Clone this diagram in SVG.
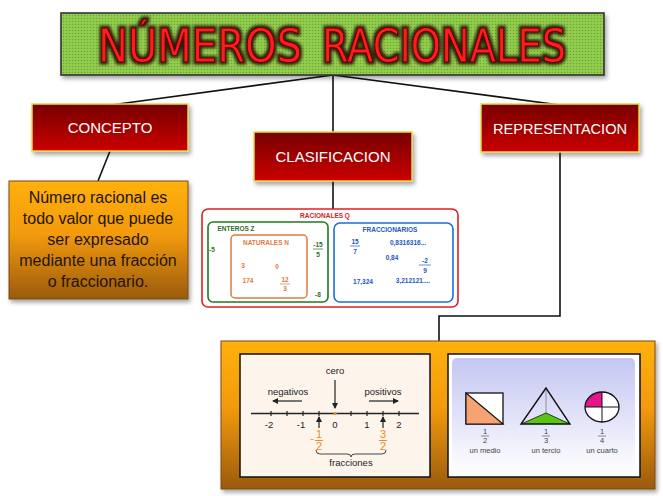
<svg xmlns="http://www.w3.org/2000/svg" width="663" height="496" viewBox="0 0 663 496">
<defs>
<pattern id="dots" width="3" height="3" patternUnits="userSpaceOnUse">
<rect width="3" height="3" fill="#8dc94a"/>
<rect x="0" y="0" width="1" height="1" fill="#6aa32f"/>
<rect x="1.5" y="1.5" width="1" height="1" fill="#a6da62"/>
</pattern>
<linearGradient id="redg" x1="0" y1="0" x2="0" y2="1">
<stop offset="0" stop-color="#760000"/>
<stop offset="1" stop-color="#cc0000"/>
</linearGradient>
<linearGradient id="orgg" x1="0" y1="0" x2="0" y2="1">
<stop offset="0" stop-color="#ffb10a"/>
<stop offset="0.45" stop-color="#f39a08"/>
<stop offset="1" stop-color="#9a5a08"/>
</linearGradient>
<linearGradient id="lavg" x1="0" y1="0" x2="0" y2="1">
<stop offset="0" stop-color="#c4c6f2"/>
<stop offset="1" stop-color="#ffffff"/>
</linearGradient>
<filter id="sh" x="-10%" y="-10%" width="130%" height="140%">
<feDropShadow dx="2" dy="3" stdDeviation="2" flood-color="#000" flood-opacity="0.35"/>
</filter>
<filter id="glow" x="-10%" y="-30%" width="120%" height="160%">
<feMorphology in="SourceAlpha" operator="dilate" radius="1.5" result="d"/>
<feGaussianBlur in="d" stdDeviation="1.5" result="b"/>
<feFlood flood-color="#1a0000" flood-opacity="0.85"/>
<feComposite in2="b" operator="in" result="g"/>
<feMerge><feMergeNode in="g"/><feMergeNode in="SourceGraphic"/></feMerge>
</filter>
<marker id="ah" viewBox="0 0 6 6" refX="5" refY="3" markerWidth="5" markerHeight="5" orient="auto">
<path d="M0,0 L6,3 L0,6 z" fill="#222"/>
</marker>
</defs>
<style>
.conn{stroke:#111;stroke-width:1.6;fill:none}
.rbox{fill:url(#redg);stroke:#e6d84a;stroke-width:1.5}
.rtxt{font-family:"Liberation Sans",Arial,sans-serif;font-size:15px;fill:#fff;text-anchor:middle}
.ttl{font-family:"DejaVu Sans","Liberation Sans",sans-serif;font-size:46px;fill:#ff1a1a;stroke:#5a0000;stroke-width:0.8}
.def{font-family:"Liberation Sans",Arial,sans-serif;font-size:16px;fill:#1e1400;text-anchor:middle}
.sm{font-family:"Liberation Sans",Arial,sans-serif;font-size:6.5px;font-weight:bold;text-anchor:middle}
.g{fill:#2f6e2a}.o{fill:#e07a40}.b{fill:#2357c4}.r{fill:#d61a1a}
.nl{font-family:"Liberation Sans",Arial,sans-serif;font-size:9.5px;fill:#222;text-anchor:middle}
.fr{font-family:"Liberation Sans",Arial,sans-serif;font-size:11px;fill:#f08a20;text-anchor:middle}
.sp{font-family:"Liberation Sans",Arial,sans-serif;font-size:7.5px;fill:#444;text-anchor:middle}
.ln{stroke:#222;stroke-width:1.2;fill:none}
</style>
<rect width="663" height="496" fill="#fff"/>

<g id="connectors">
<line class="conn" x1="333" y1="75" x2="111" y2="105"/>
<line class="conn" x1="333" y1="75" x2="333" y2="132"/>
<line class="conn" x1="333" y1="75" x2="560" y2="105"/>
<line class="conn" x1="110" y1="151" x2="98" y2="181"/>
<line class="conn" x1="333" y1="181" x2="333" y2="209"/>
<polyline class="conn" points="560,137 560,316 439,316 439,341"/>
</g>

<g id="title">
<rect x="61" y="13" width="543" height="62" fill="url(#dots)" stroke="#333" stroke-width="1.6" filter="url(#sh)"/>
<g filter="url(#glow)">
<text class="ttl" x="98" y="62" textLength="204" lengthAdjust="spacingAndGlyphs">NÚMEROS</text>
<text class="ttl" x="322" y="62" textLength="244" lengthAdjust="spacingAndGlyphs">RACIONALES</text>
</g>
</g>

<g id="concepto">
<rect class="rbox" x="32" y="104" width="156" height="47" filter="url(#sh)"/>
<text class="rtxt" x="110" y="133">CONCEPTO</text>
</g>

<g id="definicion">
<rect x="9" y="181" width="179" height="118" fill="url(#orgg)" stroke="#7a4a10" stroke-width="1" filter="url(#sh)"/>
<text class="def" x="98" y="203">Número racional es</text>
<text class="def" x="98" y="224">todo valor que puede</text>
<text class="def" x="98" y="245">ser expresado</text>
<text class="def" x="98" y="266">mediante una fracción</text>
<text class="def" x="98" y="287">o fraccionario.</text>
</g>

<g id="clasificacion">
<rect class="rbox" x="254" y="132" width="158" height="49" filter="url(#sh)"/>
<text class="rtxt" x="333" y="162">CLASIFICACION</text>
</g>

<g id="racionales">
<rect x="202" y="209" width="256" height="98" rx="6" fill="#fff" stroke="#de2020" stroke-width="1.6"/>
<text class="sm r" x="325" y="218">RACIONALES Q</text>
<rect x="208" y="222" width="120" height="80" rx="5" fill="none" stroke="#1f7a1f" stroke-width="1.6"/>
<text class="sm g" x="236" y="231">ENTEROS Z</text>
<text class="sm g" x="212" y="252">-5</text>
<text class="sm g" x="318" y="247">-15</text>
<line x1="313" y1="249" x2="323" y2="249" stroke="#2f6e2a" stroke-width="0.7"/>
<text class="sm g" x="318" y="257">5</text>
<text class="sm g" x="318" y="297">-8</text>
<rect x="231" y="235" width="76" height="63" rx="4" fill="none" stroke="#e07a40" stroke-width="1.5"/>
<text class="sm o" x="266" y="245">NATURALES N</text>
<text class="sm o" x="243" y="268">3</text>
<text class="sm o" x="277" y="269">0</text>
<text class="sm o" x="248" y="283">174</text>
<text class="sm o" x="285" y="282">12</text>
<line x1="280" y1="284" x2="290" y2="284" stroke="#e07a40" stroke-width="0.7"/>
<text class="sm o" x="285" y="291">3</text>
<rect x="334" y="223" width="119" height="79" rx="6" fill="none" stroke="#1a6fd8" stroke-width="1.6"/>
<text class="sm b" x="390" y="232">FRACCIONARIOS</text>
<text class="sm b" x="355" y="244">15</text>
<line x1="350" y1="246" x2="360" y2="246" stroke="#2357c4" stroke-width="0.7"/>
<text class="sm b" x="355" y="254">7</text>
<text class="sm b" x="408" y="245">0,8316316...</text>
<text class="sm b" x="392" y="260">0,84</text>
<text class="sm b" x="425" y="263">-2</text>
<line x1="419" y1="265" x2="431" y2="265" stroke="#2357c4" stroke-width="0.7"/>
<text class="sm b" x="425" y="273">9</text>
<text class="sm b" x="363" y="284">17,324</text>
<text class="sm b" x="413" y="283">3,212121....</text>
</g>

<g id="representacion">
<rect class="rbox" x="481" y="104" width="158" height="48" filter="url(#sh)"/>
<text class="rtxt" x="560" y="134" textLength="134" lengthAdjust="spacingAndGlyphs">REPRESENTACION</text>
</g>

<g id="ejemplos">
<rect x="221" y="341" width="434" height="148" fill="url(#orgg)" stroke="#7a4a10" stroke-width="1" filter="url(#sh)"/>
<rect x="240" y="354" width="190" height="123" fill="#fdf4ec" stroke="#111" stroke-width="1.5"/>
<text class="nl" x="335" y="374">cero</text>
<line class="ln" x1="335" y1="380" x2="335" y2="408" marker-end="url(#ah)"/>
<text class="nl" x="288" y="395">negativos</text>
<line class="ln" x1="302" y1="401" x2="273" y2="401" marker-end="url(#ah)"/>
<text class="nl" x="383" y="395">positivos</text>
<line class="ln" x1="369" y1="401" x2="398" y2="401" marker-end="url(#ah)"/>
<line x1="251" y1="413.5" x2="419" y2="413.5" stroke="#222" stroke-width="1.3"/>
<path d="M271,411v5M287,411v5M303,411v5M319,411v5M351,411v5M367,411v5M383,411v5M399,411v5" stroke="#222" stroke-width="1.2"/>
<circle cx="335" cy="413.5" r="1.6" fill="#f08a20"/>
<text class="nl" x="269" y="428">-2</text>
<text class="nl" x="301" y="428">-1</text>
<text class="nl" x="335" y="428">0</text>
<text class="nl" x="367" y="428">1</text>
<text class="nl" x="399" y="428">2</text>
<line class="ln" x1="319" y1="428" x2="319" y2="417" marker-end="url(#ah)"/>
<line class="ln" x1="383" y1="428" x2="383" y2="417" marker-end="url(#ah)"/>
<text class="fr" x="312" y="442">-</text>
<text class="fr" x="319" y="438">1</text>
<line x1="315" y1="440.5" x2="323" y2="440.5" stroke="#f08a20" stroke-width="1"/>
<text class="fr" x="319" y="450">2</text>
<text class="fr" x="383" y="438">3</text>
<line x1="379" y1="440.5" x2="387" y2="440.5" stroke="#f08a20" stroke-width="1"/>
<text class="fr" x="383" y="450">2</text>
<path d="M316,450 q0,4 4,4 h27 q4,0 4,3 q0,-3 4,-3 h27 q4,0 4,-4" fill="none" stroke="#333" stroke-width="0.9"/>
<text class="nl" x="351" y="466">fracciones</text>
<rect x="448" y="354" width="192" height="123" fill="#fff" stroke="#111" stroke-width="1.5"/>
<rect x="452" y="358" width="183" height="116" rx="5" fill="url(#lavg)"/>
<rect x="466" y="393" width="37" height="31" fill="#fff" stroke="#111" stroke-width="1.3"/>
<polygon points="466,393 466,424 503,424" fill="#f6a272" stroke="#111" stroke-width="1.1"/>
<text class="sp" x="485" y="434">1</text>
<line x1="481" y1="436" x2="489" y2="436" stroke="#444" stroke-width="0.6"/>
<text class="sp" x="485" y="443">2</text>
<text class="sp" x="485" y="453">un medio</text>
<polygon points="521,424 570,424 546,413" fill="#5cc414"/>
<line x1="546" y1="389" x2="546" y2="413" stroke="#888" stroke-width="0.9"/>
<polygon points="546,388 521,424 570,424" fill="none" stroke="#111" stroke-width="1.4"/>
<line x1="521" y1="424" x2="546" y2="413" stroke="#111" stroke-width="0.8"/>
<line x1="570" y1="424" x2="546" y2="413" stroke="#111" stroke-width="0.8"/>
<text class="sp" x="546" y="434">1</text>
<line x1="542" y1="436" x2="550" y2="436" stroke="#444" stroke-width="0.6"/>
<text class="sp" x="546" y="443">3</text>
<text class="sp" x="546" y="453">un tercio</text>
<ellipse cx="602" cy="407" rx="17" ry="15" fill="#fff"/>
<path d="M602,407 L585,407 A17,15 0 0 1 602,392 Z" fill="#e4168c"/>
<ellipse cx="602" cy="407" rx="17" ry="15" fill="none" stroke="#111" stroke-width="1.3"/>
<path d="M585,407h34M602,392v30" stroke="#111" stroke-width="1"/>
<text class="sp" x="602" y="434">1</text>
<line x1="598" y1="436" x2="606" y2="436" stroke="#444" stroke-width="0.6"/>
<text class="sp" x="602" y="443">4</text>
<text class="sp" x="602" y="453">un cuarto</text>
</g>
</svg>
